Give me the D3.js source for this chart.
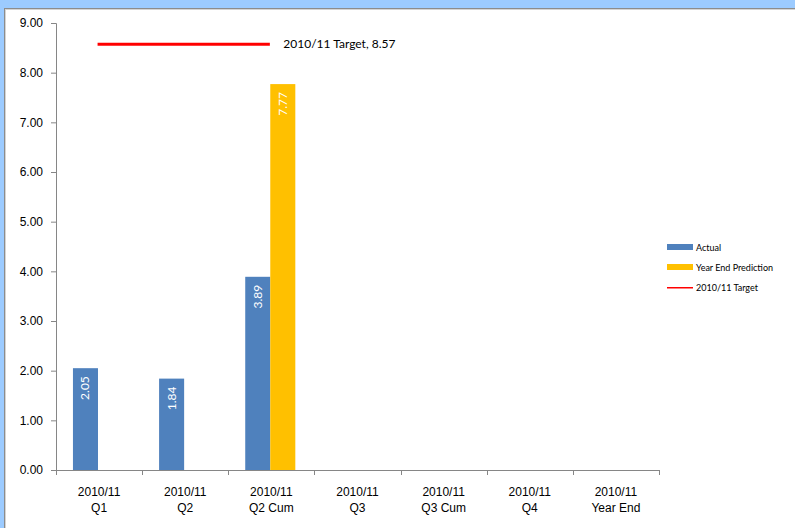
<!DOCTYPE html>
<html>
<head>
<meta charset="utf-8">
<script src="https://cdn.jsdelivr.net/npm/d3@7"></script>
<style>
  body { margin: 0; background: #9ccbff; }
  svg { display: block; font-family: Lato, "Liberation Sans", sans-serif; }
</style>
</head>
<body>
<svg id="chart" width="795" height="528"></svg>
<script>
// categories on the x axis (two lines each)
const categories = ["2010/11\nQ1", "2010/11\nQ2", "2010/11\nQ2 Cum", "2010/11\nQ3",
                    "2010/11\nQ3 Cum", "2010/11\nQ4", "2010/11\nYear End"];
// series values (null = no bar)
const actual = [2.05, 1.84, 3.89, null, null, null, null];
const prediction = [null, null, 7.77, null, null, null, null];
const target = [8.57, 8.57, 8.57, null, null, null, null];
const seriesNames = ["Actual", "Year End Prediction", "2010/11 Target"];
const yTicks = [0, 1, 2, 3, 4, 5, 6, 7, 8, 9];

const svg = d3.select("#chart");

// chart frame: white area with grey edge, blue window behind
svg.append("rect").attr("x", 4.5).attr("y", 8.5).attr("width", 820).attr("height", 540)
    .attr("fill", "#fff").attr("stroke", "#8c8c8c").attr("stroke-width", 1);
svg.append("rect").attr("x", 5.5).attr("y", 9.5).attr("width", 820).attr("height", 540)
    .attr("fill", "none").attr("stroke", "#d4d4d4").attr("stroke-width", 1);

const plot = { left: 56, right: 659, top: 23, bottom: 470 };

const y = d3.scaleLinear().domain([0, 9]).range([plot.bottom, plot.top]);
const x0 = d3.scaleBand().domain(categories).range([plot.left, plot.right]).padding(0);
const x1 = d3.scaleBand().domain(seriesNames.slice(0, 2))
    .range([0, x0.bandwidth()]).paddingInner(0).paddingOuter(0.72).align(0.47);

const colors = { "Actual": "#4f81bd", "Year End Prediction": "#ffc000", "2010/11 Target": "#ff0000" };

// y axis
const yAxis = d3.axisLeft(y).tickValues(yTicks).tickFormat(d3.format(".2f")).tickSize(5).tickPadding(8);
const gy = svg.append("g").attr("transform", `translate(${plot.left},0)`).call(yAxis);
gy.select(".domain").attr("stroke", "#868686");
gy.selectAll(".tick line").attr("stroke", "#868686");
gy.selectAll("text").attr("font-size", 12).attr("fill", "#000");

// x axis
const xAxis = d3.axisBottom(x0).tickSize(0).tickFormat("");
const gx = svg.append("g").attr("transform", `translate(0,${plot.bottom})`).call(xAxis);
gx.select(".domain").attr("stroke", "#868686").attr("d", `M${plot.left},0.5H${plot.right}`);
const bounds = categories.map(c => x0(c)).concat([plot.right]);
gx.selectAll(".sep").data(bounds).join("line").attr("class", "sep")
    .attr("x1", d => Math.round(d) + 0.5).attr("x2", d => Math.round(d) + 0.5)
    .attr("y1", 0).attr("y2", 5).attr("stroke", "#868686");
gx.selectAll(".lbl").data(categories).join("text").attr("class", "lbl")
    .attr("text-anchor", "middle").attr("font-size", 12).attr("fill", "#000")
    .each(function(d) {
        const t = d3.select(this);
        d.split("\n").forEach((s, i) => {
            t.append("tspan").attr("x", x0(d) + x0.bandwidth() / 2).attr("y", 26 + i * 16).text(s);
        });
    });

// bars
const barData = [];
categories.forEach((c, i) => {
    if (actual[i] != null) barData.push({ c, s: "Actual", v: actual[i] });
    if (prediction[i] != null) barData.push({ c, s: "Year End Prediction", v: prediction[i] });
});
const bars = svg.append("g").selectAll("g").data(barData).join("g");
bars.append("rect")
    .attr("x", d => x0(d.c) + x1(d.s))
    .attr("y", d => y(d.v))
    .attr("width", x1.bandwidth())
    .attr("height", d => y(0) - y(d.v))
    .attr("fill", d => colors[d.s]);
bars.append("text")
    .attr("transform", d => `translate(${x0(d.c) + x1(d.s) + x1.bandwidth() / 2 + 4},${y(d.v) + 8}) rotate(-90)`)
    .attr("text-anchor", "end").attr("font-size", 12).attr("fill", "#fff")
    .text(d => d.v.toFixed(2));

// target line
const tPts = categories.map((c, i) => ({ c, v: target[i] })).filter(d => d.v != null);
const line = d3.line().x(d => x0(d.c) + x0.bandwidth() / 2 - 1.5).y(d => y(d.v));
svg.append("path").datum(tPts).attr("d", line)
    .attr("fill", "none").attr("stroke", colors["2010/11 Target"]).attr("stroke-width", 3);
const last = tPts[tPts.length - 1];
svg.append("text").attr("x", x0(last.c) + x0.bandwidth() / 2 + 12).attr("y", y(last.v) + 4)
    .attr("font-size", 12).attr("fill", "#000")
    .text(`2010/11 Target, ${last.v.toFixed(2)}`);

// legend
const lg = svg.append("g").attr("transform", "translate(667,247)");
seriesNames.forEach((s, i) => {
    const g = lg.append("g").attr("transform", `translate(0,${i * 20})`);
    if (i < 2) {
        g.append("rect").attr("x", 0).attr("y", -3).attr("width", 26).attr("height", 6).attr("fill", colors[s]);
    } else {
        g.append("rect").attr("x", 0).attr("y", 0).attr("width", 26).attr("height", 1.5)
            .attr("fill", colors[s]);
    }
    g.append("text").attr("x", 29).attr("y", 3.5).attr("font-size", 9).attr("fill", "#000").text(s);
});
</script>
</body>
</html>
